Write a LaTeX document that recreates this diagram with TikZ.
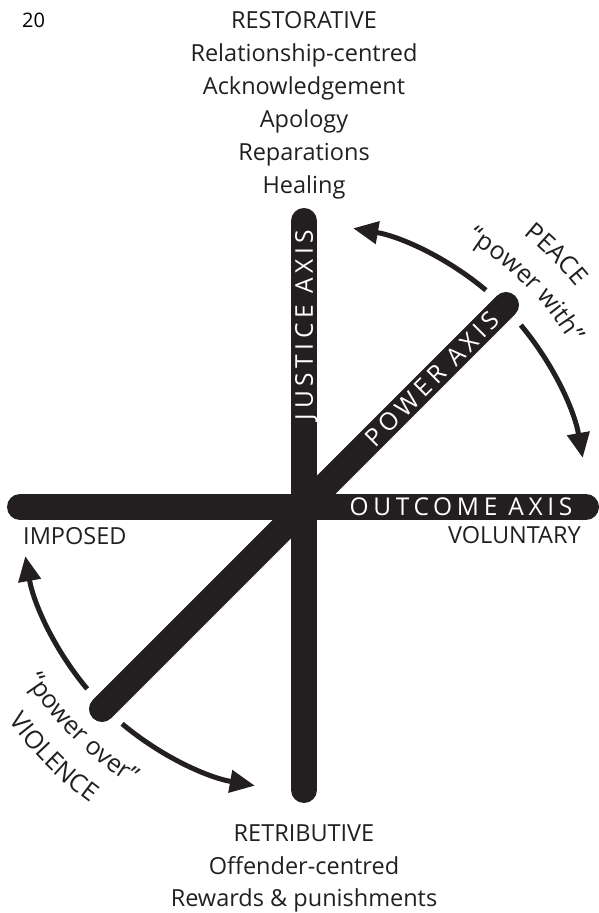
\documentclass[tikz,border=0pt]{standalone}
\usepackage{fontspec}
\setmainfont{Open Sans}
\newfontfamily\axisfont[LetterSpace=19]{Open Sans}
\usetikzlibrary{arrows.meta,decorations.text}
\definecolor{inkblack}{HTML}{231F20}
\newcommand\lblfont{\fontsize{23.5}{28}\selectfont\color{inkblack}}
\newcommand\arcfont{\fontsize{25}{28}\selectfont\color{inkblack}}

\begin{document}
\begin{tikzpicture}[x=1pt, y=1pt,
  bar/.style={line width=26pt, line cap=round, inkblack},
  sweep/.style={line width=5pt, inkblack, -{Triangle[length=25pt,width=22pt]}},
  lbl/.style={font=\lblfont, inner sep=0pt},
  onbar/.style={font=\axisfont\fontsize{24.5}{28}\selectfont, text=white, inner sep=0pt, text depth=0pt}]
  \useasboundingbox (0,0) rectangle (599,913);

  % the three axes
  \coordinate (hub) at (304,406);
  \coordinate (justtop) at (304,692);
  \coordinate (justbot) at (304,123);
  \coordinate (outleft) at (20,406);
  \coordinate (outright) at (586,406);
  \coordinate (powlow) at (102,204);
  \coordinate (powhigh) at (506,608);
  \draw[bar] (justbot) -- (justtop);
  \draw[bar] (outleft) -- (outright);
  \draw[bar] (powlow) -- (powhigh);

  \node[onbar, rotate=90] (justice) at (304,588) {JUSTICE AXIS};
  \node[onbar, rotate=45] (power) at (432,534) {POWER AXIS};
  \node[onbar] (outcome) at (461,406) {OUTCOME AXIS};

  % swings of the power axis
  \draw[sweep] ([shift={(50:283)}]hub) arc[start angle=50, end angle=80, radius=283];
  \draw[sweep] ([shift={(40:283)}]hub) arc[start angle=40, end angle=10, radius=283];
  \draw[sweep] ([shift={(220:283)}]hub) arc[start angle=220, end angle=190, radius=283];
  \draw[sweep] ([shift={(230:283)}]hub) arc[start angle=230, end angle=260, radius=283];

  \path[decorate, decoration={text along path, text align=center, text={|\arcfont|PEACE}}]
    ([shift={(75:350)}]hub) arc[start angle=75, end angle=15, radius=350];
  \path[decorate, decoration={text along path, text align=center, text={|\arcfont|“power with”}}]
    ([shift={(75:313)}]hub) arc[start angle=75, end angle=15, radius=313];
  \path[decorate, decoration={text along path, text align=center, text={|\arcfont|“power over”}}]
    ([shift={(195:327)}]hub) arc[start angle=195, end angle=255, radius=327];
  \path[decorate, decoration={text along path, text align=center, text={|\arcfont|VIOLENCE}}]
    ([shift={(195:365)}]hub) arc[start angle=195, end angle=255, radius=365];

  % pole labels
  \node[lbl, anchor=base west, font=\fontsize{20}{22}\selectfont] (pageno) at (22,885) {20};
  \node[lbl, anchor=base] (restor) at (304,884) {RESTORATIVE};
  \node[lbl, anchor=base] (relcent) at (304,851) {Relationship-centred};
  \node[lbl, anchor=base] (ackn) at (304,818) {Acknowledgement};
  \node[lbl, anchor=base] (apol) at (304,785) {Apology};
  \node[lbl, anchor=base] (repar) at (304,752) {Reparations};
  \node[lbl, anchor=base] (heal) at (304,719) {Healing};

  \node[lbl, anchor=base] (retrib) at (304,71) {RETRIBUTIVE};
  \node[lbl, anchor=base] (offcent) at (304,38) {Offender-centred};
  \node[lbl, anchor=base] (reward) at (304,6) {Rewards \& punishments};

  \node[lbl, anchor=base west] (imposed) at (23,368) {IMPOSED};
  \node[lbl, anchor=base east] (volunt) at (581,369) {VOLUNTARY};
\end{tikzpicture}
\end{document}
